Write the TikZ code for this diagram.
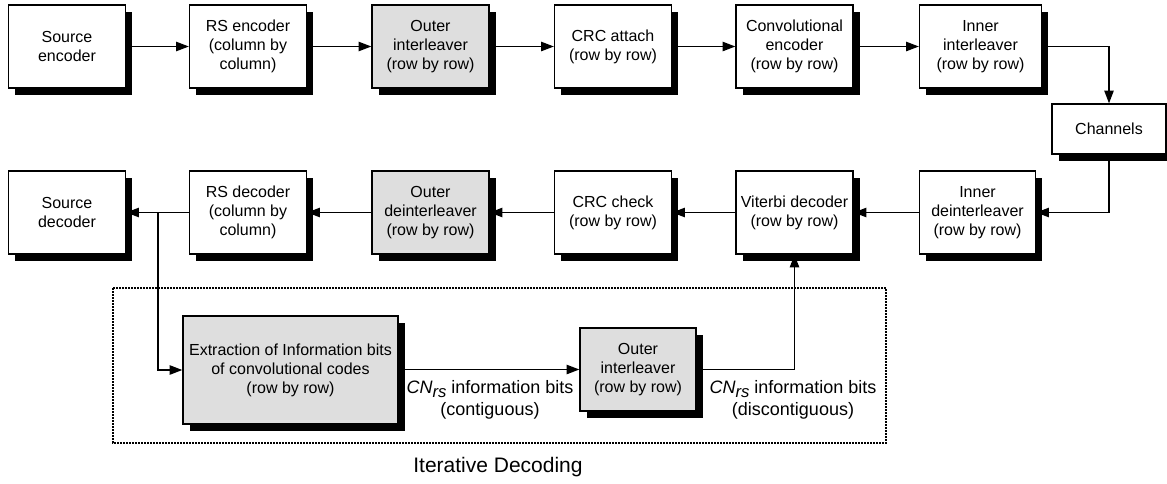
\documentclass[tikz,border=0pt]{standalone}
\usepackage{fontspec}
\setmainfont{Liberation Sans}
\usetikzlibrary{positioning, shapes.geometric, arrows.meta, shadows, backgrounds}
\definecolor{boxgray}{RGB}{222,222,222}

\begin{document}
\begin{tikzpicture}[x=0.75pt, y=0.75pt]
    \useasboundingbox (0,0) rectangle (1167,-483);

    % Define styles
    \tikzset{
        block/.style={draw, line width=1pt, fill=white, align=center,
            minimum width=87.75pt, minimum height=62.25pt, inner sep=1pt,
            font=\fontsize{12}{14.25}\selectfont,
            drop shadow={shadow xshift=5pt, shadow yshift=-5.2pt, fill=black, opacity=1}},
        grayblock/.style={block, fill=boxgray},
        flow/.style={line width=1pt, -{Triangle[length=9.5pt, width=7pt]}},
        bitslabel/.style={align=center, font=\fontsize{13.5}{16.5}\selectfont},
        iterframe/.style={line width=2.2pt, dash pattern=on 1.5pt off 0.75pt}
    }
    \newcommand{\cnrs}{\textit{CN}\raisebox{-0.45ex}{\fontsize{12.5}{13}\selectfont\textit{rs}}}

    % Define nodes
	\node[block] (SourceEnc) at (67, -46.5) {Source\\encoder};
	\node[block] (RSEnc) at (248, -46.5) {RS encoder\\(column by\\column)};
	\node[grayblock] (OuterIntl) at (430.5, -46.5) {Outer\\interleaver\\(row by row)};
	\node[block] (CRCAttach) at (613, -46.5) {CRC attach\\(row by row)};
	\node[block] (ConvEnc) at (794.5, -46.5) {Convolutional\\encoder\\(row by row)};
	\node[block, minimum width=91.5pt] (InnerIntl) at (980.5, -46.5) {Inner\\interleaver\\(row by row)};
	\node[block, minimum width=85.5pt, minimum height=37.5pt] (Channels) at (1109, -129) {Channels};
	\node[block, minimum width=87pt] (InnerDeintl) at (977.5, -212.5) {Inner\\deinterleaver\\(row by row)};
	\node[block] (Viterbi) at (794.5, -212.5) {Viterbi decoder\\(row by row)};
	\node[block] (CRCCheck) at (613, -212.5) {CRC check\\(row by row)};
	\node[grayblock] (OuterDeintl) at (430.5, -212.5) {Outer\\deinterleaver\\(row by row)};
	\node[block] (RSDec) at (248, -212.5) {RS decoder\\(column by\\column)};
	\node[block] (SourceDec) at (67, -212.5) {Source\\decoder};
	\node[grayblock, minimum width=161.25pt, minimum height=81pt] (Extraction) at (290.5, -370) {Extraction of Information bits\\of convolutional codes\\(row by row)};
	\node[grayblock, minimum width=87pt] (OuterIntlIt) at (638, -369.5) {Outer\\interleaver\\(row by row)};
	\coordinate (Branch) at (158, -212.5);

    % Labels of the iterative loop
	\node[bitslabel] (Contig) at (490, -399.5) {\cnrs{} information bits\\(contiguous)};
	\node[bitslabel] (Discontig) at (793, -399.5) {\cnrs{} information bits\\(discontiguous)};
	\node[font=\fontsize{15.75}{18}\selectfont] (IterDec) at (498, -467) {Iterative Decoding};

    % Draw connections
    \begin{scope}[on background layer]
	\draw[flow] (SourceEnc) -- (RSEnc);
	\draw[flow] (RSEnc) -- (OuterIntl);
	\draw[flow] (OuterIntl) -- (CRCAttach);
	\draw[flow] (CRCAttach) -- (ConvEnc);
	\draw[flow] (ConvEnc) -- (InnerIntl);
	\draw[flow] (InnerIntl.east) -| (Channels.north);
	\draw[flow] (Channels.south) |- (InnerDeintl.east);
	\draw[flow] (InnerDeintl) -- (Viterbi);
	\draw[flow] (Viterbi) -- (CRCCheck);
	\draw[flow] (CRCCheck) -- (OuterDeintl);
	\draw[flow] (OuterDeintl) -- (RSDec);
	\draw[flow] (RSDec) -- (SourceDec);
	\draw[flow] (Branch) |- (Extraction.west);
	\draw[flow] (Extraction.east |- OuterIntlIt.west) -- (OuterIntlIt.west);
	\draw[flow] (OuterIntlIt.east) -| (Viterbi.south);
    \end{scope}

    % Iterative decoding frame
	\draw[iterframe] (113, -288) rectangle (886, -443);
\end{tikzpicture}
\end{document}
